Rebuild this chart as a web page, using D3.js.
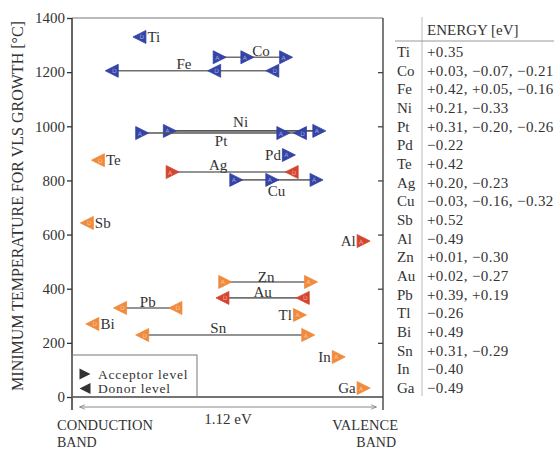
<!DOCTYPE html>
<html><head><meta charset="utf-8">
<script src="https://cdn.jsdelivr.net/npm/d3@7"></script>
<style>
html,body{margin:0;padding:0;background:#fff;}
svg{display:block;font-family:"Liberation Serif","Times New Roman",serif;}
</style></head>
<body><svg id="c" width="554" height="450"></svg>
<script>
// ---------- data ----------
const elements = ["Ti","Co","Fe","Ni","Pt","Pd","Te","Ag","Cu","Sb","Al","Zn","Au","Pb","Tl","Bi","Sn","In","Ga"];
const minTemps = [1330,1255,1205,983,975,894,875,831,802,643,576,425,366,329,303,270,229,148,33];
const levelEnergies = [[0.32],[0.03,-0.07,-0.21],[0.42,0.05,-0.16],[0.21,-0.33],[0.31,-0.20,-0.26],[-0.22],[0.47],
  [0.20,-0.23],[-0.03,-0.16,-0.32],[0.51],[-0.49],[0.01,-0.30],[0.02,-0.27],[0.39,0.19],[-0.26],[0.49],[0.31,-0.29],[-0.40],[-0.49]];
const levelTypes = [["D"],["A","A","A"],["D","D","D"],["A","A"],["A","A","D"],["A"],["D"],["A","D"],["A","A","A"],["D"],["A"],
  ["A","A"],["D","D"],["D","D"],["A"],["D"],["D","A"],["A"],["A"]];
const groups = ["blue","blue","blue","blue","blue","blue","orange","red","blue","orange","red","orange","red","orange","orange","orange","orange","orange","orange"];
const tableEnergies = ["+0.35","+0.03, \u22120.07, \u22120.21","+0.42, +0.05, \u22120.16","+0.21, \u22120.33","+0.31, \u22120.20, \u22120.26",
  "\u22120.22","+0.42","+0.20, \u22120.23","\u22120.03, \u22120.16, \u22120.32","+0.52","\u22120.49","+0.01, \u22120.30","+0.02, \u22120.27",
  "+0.39, +0.19","\u22120.26","+0.49","+0.31, \u22120.29","\u22120.40","\u22120.49"];
const yTicks = [0,200,400,600,800,1000,1200,1400];
const legendLabels = ["Acceptor level","Donor level"];
const legendTypes = ["A","D"];

// ---------- layout / style ----------
const colors = {blue:"#3343a6", orange:"#f08a3c", red:"#d4452f", legend:"#333"};
const labelPlace = {
  Ti:["right"],Co:["above",8,-1],Fe:["above",-8,-2],Ni:["above",-4,-4],Pt:["below",0,13],Pd:["left"],Te:["right"],
  Ag:["above",-14,-2],Cu:["below",0,16],Sb:["right"],Al:["left"],Zn:["above",-2,0],Au:["above",0,-1],Pb:["above",0,-1],
  Tl:["left"],Bi:["right"],Sn:["above",-7,-2],In:["left"],Ga:["left"]
};
const svg = d3.select("#c");
const X0 = 72, X1 = 383, Y0 = 397, Y1 = 18;
const x = d3.scaleLinear().domain([0.56,-0.56]).range([X0+1, X1]);
const y = d3.scaleLinear().domain([0,1400]).range([Y0, Y1]);

// frame
svg.append("line").attr("x1",X0).attr("x2",X1).attr("y1",Y1).attr("y2",Y1).attr("stroke","#777").attr("stroke-width",1.2);
svg.append("line").attr("x1",X0).attr("x2",X1).attr("y1",Y0).attr("y2",Y0).attr("stroke","#444").attr("stroke-width",1.3);
svg.append("line").attr("x1",X0).attr("x2",X0).attr("y1",Y1).attr("y2",410).attr("stroke","#333").attr("stroke-width",1.5);
svg.append("line").attr("x1",X1).attr("x2",X1).attr("y1",Y1).attr("y2",410).attr("stroke","#444").attr("stroke-width",1.4);

const ax = svg.append("g").attr("transform",`translate(${X0},0)`)
  .call(d3.axisLeft(y).tickValues(yTicks).tickSize(5).tickSizeOuter(0).tickFormat(d3.format("d")));
ax.select(".domain").remove();
ax.selectAll(".tick line").attr("stroke","#333").attr("stroke-width",1.3);
ax.selectAll(".tick text").attr("font-family","Liberation Serif").attr("font-size",15).attr("fill","#333").attr("x",-7);

const axr = svg.append("g").attr("transform",`translate(${X1},0)`)
  .call(d3.axisLeft(y).tickValues(yTicks.filter(d=>d>0 && d<1400)).tickSize(5).tickSizeOuter(0).tickFormat(""));
axr.select(".domain").remove();
axr.selectAll(".tick line").attr("x2",-5).attr("stroke","#444").attr("stroke-width",1.3);

// y title
svg.append("text").attr("transform","translate(23,206) rotate(-90)").attr("text-anchor","middle")
  .attr("font-size",16).attr("fill","#333").text("MINIMUM TEMPERATURE FOR VLS GROWTH [\u00B0C]");

// triangle path
function tri(type, cx, cy, s){
  s = s || 7;
  if(type==="A") return `M${cx-s},${cy-s}L${cx+s},${cy}L${cx-s},${cy+s}Z`;
  return `M${cx+s},${cy-s}L${cx-s},${cy}L${cx+s},${cy+s}Z`;
}
function drawMarker(g, type, cx, cy, col){
  g.append("path").attr("d",tri(type,cx,cy,6.5)).attr("fill",col).attr("stroke",col).attr("stroke-width",0.8).attr("stroke-linejoin","round");
  g.append("text").attr("x",cx + (type==="A"?-2.5:2.5)).attr("y",cy+2.5).attr("text-anchor","middle")
    .attr("font-family","DejaVu Sans").attr("font-size",6).attr("fill","rgba(255,255,255,0.5)").text(type==="A"?"A":"D");
}

// element rows
const plot = svg.append("g");
elements.forEach((el,i)=>{
  const cy = y(minTemps[i]);
  const xs = levelEnergies[i].map(e=>x(e));
  const col = colors[groups[i]];
  const g = plot.append("g");
  if(xs.length>1){
    g.append("line").attr("x1",d3.min(xs)).attr("x2",d3.max(xs)).attr("y1",cy).attr("y2",cy)
      .attr("stroke",(el==="Ni"||el==="Pt")?"#555":"#707070").attr("stroke-width",1.6);
  }
  const lp = labelPlace[el];
  const lbl = g.append("text").attr("font-size",15).attr("fill","#333").text(el);
  if(lp[0]==="right"){ lbl.attr("x",d3.max(xs)+8).attr("y",cy+5).attr("text-anchor","start"); }
  else if(lp[0]==="left"){ lbl.attr("x",d3.min(xs)-8).attr("y",cy+5).attr("text-anchor","end"); }
  else { lbl.attr("x",(d3.min(xs)+d3.max(xs))/2+lp[1]).attr("y",cy+lp[2]).attr("text-anchor","middle"); }
  xs.forEach((cx,j)=>drawMarker(g, levelTypes[i][j], cx, cy, col));
});

// legend
const lg = svg.append("g");
lg.append("rect").attr("x",X0).attr("y",355).attr("width",125).attr("height",Y0-355).attr("fill","none").attr("stroke","#777").attr("stroke-width",1);
legendLabels.forEach((t,i)=>{
  const ly = 374 + i*14.5;
  lg.append("path").attr("d",tri(legendTypes[i],85,ly,5.5)).attr("fill",colors.legend);
  lg.append("text").attr("x",98).attr("y",ly+4.5).attr("font-size",13.5).attr("letter-spacing",0.8).attr("fill","#333").text(t);
});

// band gap arrow
const defs = svg.append("defs");
defs.append("marker").attr("id","ah").attr("viewBox","0 0 10 10").attr("refX",9).attr("refY",5)
  .attr("markerWidth",6).attr("markerHeight",6).attr("orient","auto-start-reverse")
  .append("path").attr("d","M0,1L10,5L0,9").attr("fill","none").attr("stroke","#777").attr("stroke-width",1.2);
svg.append("line").attr("x1",80).attr("x2",376).attr("y1",407).attr("y2",407).attr("stroke","#888").attr("stroke-width",1)
  .attr("marker-start","url(#ah)").attr("marker-end","url(#ah)");
svg.append("text").attr("x",228).attr("y",424).attr("text-anchor","middle").attr("font-size",15).attr("fill","#333").text("1.12 eV");
svg.append("text").attr("x",57).attr("y",430).attr("font-size",14.5).attr("fill","#333").text("CONDUCTION");
svg.append("text").attr("x",57).attr("y",446.5).attr("font-size",14).attr("fill","#333").text("BAND");
svg.append("text").attr("x",398).attr("y",430).attr("text-anchor","end").attr("font-size",14.5).attr("fill","#333").text("VALENCE");
svg.append("text").attr("x",396).attr("y",446.5).attr("text-anchor","end").attr("font-size",14).attr("fill","#333").text("BAND");

// table
const tb = svg.append("g");
tb.append("line").attr("x1",422).attr("x2",422).attr("y1",17).attr("y2",396).attr("stroke","#bbb").attr("stroke-width",1);
tb.append("line").attr("x1",395).attr("x2",554).attr("y1",41).attr("y2",41).attr("stroke","#999").attr("stroke-width",1);
tb.append("text").attr("x",427).attr("y",35).attr("font-size",15).attr("fill","#333").text("ENERGY [eV]");
const rowY = d3.scaleLinear().domain([0,elements.length-1]).range([57,393]);
elements.forEach((el,i)=>{
  tb.append("text").attr("x",397).attr("y",rowY(i)).attr("font-size",15).attr("fill","#333").text(el);
  tb.append("text").attr("x",427).attr("y",rowY(i)).attr("font-size",15).attr("letter-spacing",0.4).attr("fill","#333").text(tableEnergies[i]);
});
</script></body></html>
